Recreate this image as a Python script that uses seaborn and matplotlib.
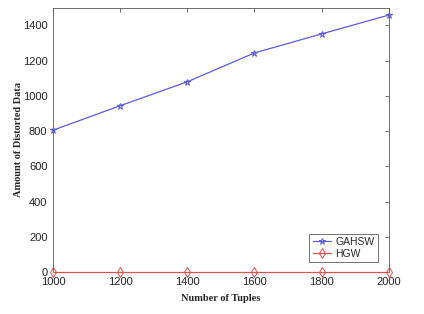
import matplotlib
matplotlib.use("Agg")
import matplotlib.pyplot as plt
import seaborn as sns
import pandas as pd

tuples = [1000, 1200, 1400, 1600, 1800, 2000]
gahsw = [805, 944, 1080, 1244, 1352, 1459]
hgw = [0, 0, 0, 0, 0, 0]

sns.set_theme(style="white")
plt.rcParams['font.family'] = ['Liberation Sans', 'DejaVu Sans']

df = pd.DataFrame({
    'tuples': tuples * 2,
    'value': gahsw + hgw,
    'method': ['GAHSW'] * len(tuples) + ['HGW'] * len(tuples),
})

fig = plt.figure(figsize=(4.24, 3.14), dpi=100)
ax = fig.add_axes([0.125, 0.134, 0.792, 0.841])

colors = {'GAHSW': '#5b5bd6', 'HGW': '#d9534f'}
markers = {'GAHSW': '*', 'HGW': 'd'}
for name, grp in df.groupby('method'):
    sns.lineplot(data=grp, x='tuples', y='value', ax=ax, color=colors[name],
                 marker=markers[name], markersize=5, markerfacecolor='none',
                 markeredgecolor=colors[name], markeredgewidth=0.7,
                 linewidth=0.9, label=name, clip_on=False, zorder=5)

ax.set_xlim(1000, 2000)
ax.set_ylim(0, 1500)
ax.set_xticks(tuples)
ax.set_yticks(range(0, 1500, 200))
ax.tick_params(direction='in', length=3, width=0.6, colors='#555555',
               labelsize=8, labelcolor='#222222', top=True, right=True,
               pad=4)
for s in ax.spines.values():
    s.set_color('#555555')
    s.set_linewidth(0.6)

ax.set_xlabel('Number of Tuples', family='Liberation Serif', weight='bold',
              fontsize=7.5, labelpad=5)
ax.set_ylabel('Amount of Distorted Data', family='Liberation Serif',
              weight='bold', fontsize=7.5, labelpad=0)

leg = ax.legend(loc='lower right', fontsize=7.5, frameon=True, fancybox=False,
                edgecolor='#333333', borderpad=0.3, handlelength=1.8,
                handletextpad=0.4, labelspacing=0.2, borderaxespad=0,
                bbox_to_anchor=(0.967, 0.038))
leg.get_frame().set_linewidth(0.6)

fig.savefig('out.png', dpi=100)
